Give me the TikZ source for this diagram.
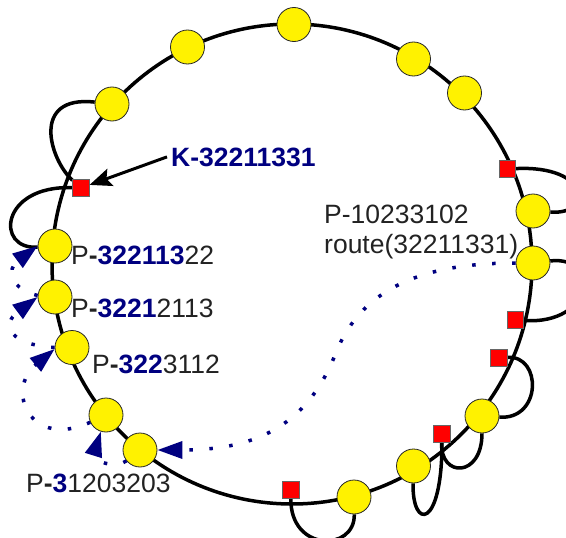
\documentclass[tikz,border=0pt]{standalone}
\usepackage{fontspec}
\setmainfont{Liberation Sans}
\usetikzlibrary{arrows.meta}
\pgfdeclarelayer{bg}
\pgfsetlayers{bg,main}
\definecolor{navy}{RGB}{0,0,128}
\definecolor{txt}{RGB}{34,34,34}
\newcommand\nbd[1]{\textbf{\color{navy}#1}}
\begin{document}
\begin{tikzpicture}[x=1pt,y=-1pt,
  yel/.style={circle,fill=yellow,draw=black!85,line width=0.8pt,minimum size=34pt,inner sep=0pt},
  sq/.style={rectangle,fill=red,draw=black!60,line width=0.6pt,minimum size=16.5pt,inner sep=0pt},
  ringline/.style={line width=3.5pt,black},
  loopline/.style={line width=3.5pt,black},
  routeline/.style={navy,line width=3.5pt,dash pattern=on 3.5pt off 16.5pt,-{Triangle[length=25pt,width=17pt]}},
  karrow/.style={black,line width=3pt,-{Stealth[length=22pt,width=18pt,inset=4pt]}},
  lbl/.style={font=\fontsize{26.5}{30}\selectfont,text=txt,inner sep=0pt,anchor=base west}]
\useasboundingbox (0,0) rectangle (566,538);
% yellow nodes
\node[yel] (Y1) at (112,104) {};
\node[yel] (Y2) at (187.5,47) {};
\node[yel] (Y3) at (294,24.5) {};
\node[yel] (Y4) at (413.5,59) {};
\node[yel] (Y5) at (464.5,93) {};
\node[yel] (Y6) at (533,211) {};
\node[yel] (Y7) at (533,263) {};
\node[yel] (Y8) at (482,416) {};
\node[yel] (Y9) at (413.5,466) {};
\node[yel] (Y10) at (354,497) {};
\node[yel] (Y11) at (140,450) {};
\node[yel] (Y12) at (106,415) {};
\node[yel] (Y13) at (72,347.5) {};
\node[yel] (Y14) at (55,297) {};
\node[yel] (Y15) at (55,246) {};
% red squares
\node[sq] (R1) at (81,188) {};
\node[sq] (R2) at (507.5,169) {};
\node[sq] (R3) at (515.5,320) {};
\node[sq] (R4) at (499,358) {};
\node[sq] (R5) at (442,434) {};
\node[sq] (R6) at (291,490) {};
% labels
\node[lbl,text=navy,font=\fontsize{26.5}{30}\selectfont\bfseries] (K) at (171,166) {K-32211331};
\node[lbl] (L1) at (71,264) {P\textbf{-}\nbd{322113}22};
\node[lbl] (L2) at (71,317) {P\textbf{-}\nbd{3221}2113};
\node[lbl] (L3) at (92,373) {P\textbf{-}\nbd{322}3112};
\node[lbl] (L4) at (26,492) {P\textbf{-}\nbd{3}1203203};
\node[lbl] (L5) at (324,223) {P-10233102};
\node[lbl] (L6) at (324,253) {route(32211331)};
\coordinate (rm) at (335,355);
\begin{pgfonlayer}{bg}
\draw[ringline] (292,264) circle[radius=240];
\draw[loopline] (Y1) .. controls (30,95) and (50,160) .. (R1);
\draw[loopline] (R1) .. controls (0,185) and (-5,250) .. (Y15);
\draw[loopline] (R2) .. controls (590,165) and (595,215) .. (Y6);
\draw[loopline] (Y7) .. controls (600,255) and (595,325) .. (R3);
\draw[loopline] (R4) .. controls (542,355) and (542,420) .. (Y8);
\draw[loopline] (R5) .. controls (440,478) and (482,478) .. (Y8);
\draw[loopline] (R5) .. controls (442,530) and (412,530) .. (Y9);
\draw[loopline] (R6) .. controls (290,552) and (355,552) .. (Y10);
\end{pgfonlayer}
% routes
\draw[routeline] (Y7) .. controls (420,263) and (360,290) .. (rm) .. controls (305,430) and (250,450) .. (Y11);
\draw[routeline] (Y11) .. controls (115,470) and (92,460) .. (Y12);
\draw[routeline] (Y12) .. controls (30,450) and (5,390) .. (Y13.185);
\draw[routeline] (Y13.west) .. controls (10,345) and (0,325) .. (Y14.west);
\draw[routeline] (Y14.175) .. controls (12,290) and (5,270) .. (Y15.west);
\draw[karrow] ([xshift=-4pt]K.west) -- (R1);
\end{tikzpicture}
\end{document}
